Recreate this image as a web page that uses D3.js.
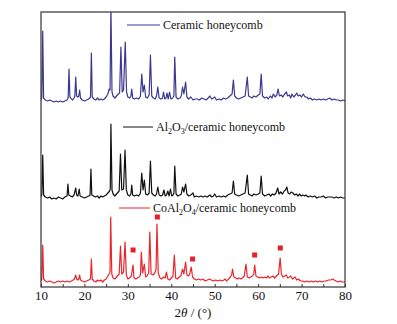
<!DOCTYPE html>
<html><head><meta charset="utf-8">
<script src="https://cdn.jsdelivr.net/npm/d3@7"></script>
<style>
html,body{margin:0;padding:0;background:#fff;}
svg{display:block;font-family:"Liberation Serif","Times New Roman",serif;}
</style></head>
<body><svg id="c" width="397" height="324"></svg>
<script>
// ---- data (2θ in degrees, intensity in a.u. above each trace's own baseline) ----
const xTicks = [10,15,20,25,30,35,40,45,50,55,60,65,70,75,80];
const xTickLabels = ["10","","20","","30","","40","","50","","60","","70","","80"];
const seriesNames = ["Ceramic honeycomb","Al2O3/ceramic honeycomb","CoAl2O4/ceramic honeycomb"];
const seriesOffsets = [185, 88, 4];

const ceramic = [[10.0,2],[10.2,5],[10.4,71],[10.6,4],[11,2],[11.5,1],[12,2],[12.5,1],[13,0],[13.5,1],[14,0],[14.5,1],[15,0],[15.5,1],[16,2],[16.25,4],[16.45,33],[16.65,5],[17,3],[17.3,2],[17.6,4],[17.8,6],[18.0,25],[18.2,6],[18.5,5],[18.7,6],[18.9,12],[19.1,4],[19.5,2],[20,1],[20.5,2],[21,3],[21.4,5],[21.6,49],[21.8,5],[22.2,3],[22.6,2],[23,4],[23.4,2],[23.8,3],[24.2,2],[24.6,3],[25,5],[25.4,8],[25.7,13],[25.9,12],[26.1,95],[26.35,10],[26.6,6],[27,4],[27.4,6],[27.8,8],[28.1,9],[28.4,55],[28.7,10],[29.0,12],[29.4,60],[29.7,10],[30.0,5],[30.4,4],[30.7,6],[30.9,13],[31.1,4],[31.5,3],[32,4],[32.5,3],[32.9,6],[33.2,28],[33.5,10],[33.8,17],[34.1,5],[34.5,4],[34.9,7],[35.2,47],[35.5,6],[35.9,4],[36.3,3],[36.6,6],[36.9,15],[37.2,4],[37.6,3],[38.0,4],[38.2,10],[38.5,3],[38.8,4],[39.0,9],[39.3,3],[39.6,10],[39.9,3],[40.3,4],[40.6,6],[40.8,45],[41.1,5],[41.5,3],[42,4],[42.3,6],[42.6,15],[42.9,8],[43.3,20],[43.6,5],[44,3],[44.5,5],[45,2],[45.5,3],[46,3],[46.5,2],[47,4],[47.5,3],[48,2],[48.5,4],[48.9,6],[49.3,3],[49.7,4],[50,5],[50.4,2],[51,3],[51.5,2],[52,4],[52.5,3],[53,4],[53.5,6],[54.0,8],[54.3,22],[54.6,6],[55,4],[55.5,3],[56,4],[56.5,5],[57,6],[57.5,25],[57.8,6],[58.2,5],[58.6,4],[59,6],[59.5,5],[60,7],[60.4,8],[60.7,28],[61,6],[61.5,4],[62,5],[62.3,3],[62.8,6],[63.2,4],[63.5,8],[63.9,5],[64.3,7],[64.6,13],[64.9,6],[65.3,7],[65.7,5],[66.1,8],[66.5,10],[66.8,6],[67.2,7],[67.5,4],[67.8,8],[68.2,5],[68.6,7],[68.9,9],[69.2,6],[69.6,7],[70,5],[70.4,8],[70.8,5],[71.2,5],[71.6,3],[72,4],[72.5,2],[73,3],[73.5,2],[74,3],[74.5,2],[75,3],[75.5,2],[76,3],[76.5,4],[77,2],[77.5,3],[78,2],[78.5,2],[79,1],[79.5,2],[80,1]];

const alumina = [[10.0,2],[10.2,5],[10.4,44],[10.6,4],[11,2],[11.5,1],[12,2],[12.5,0],[13,1],[13.5,0],[14,2],[14.5,1],[15,0],[15.5,2],[16,3],[16.2,15],[16.4,4],[16.8,3],[17.2,2],[17.6,4],[18.0,11],[18.2,4],[18.5,3],[18.8,10],[19.0,3],[19.5,2],[20,1],[20.5,2],[21,3],[21.3,4],[21.5,30],[21.7,4],[22.1,3],[22.5,2],[23,3],[23.4,1],[23.8,3],[24.2,2],[24.6,3],[25,4],[25.4,6],[25.8,8],[25.95,10],[26.1,75],[26.35,9],[26.6,5],[27,3],[27.4,5],[27.8,7],[28.0,8],[28.3,45],[28.6,9],[29.0,10],[29.35,49],[29.65,9],[30.0,4],[30.4,3],[30.7,5],[30.9,14],[31.1,4],[31.5,3],[32,4],[32.5,3],[32.9,6],[33.2,26],[33.5,9],[33.8,19],[34.1,5],[34.5,4],[34.9,6],[35.2,38],[35.5,6],[35.9,4],[36.3,3],[36.6,5],[36.9,12],[37.2,4],[37.6,3],[38.0,4],[38.3,9],[38.6,3],[38.9,4],[39.2,8],[39.5,3],[39.8,10],[40.1,3],[40.4,4],[40.6,6],[40.8,33],[41.1,5],[41.5,3],[42,4],[42.3,5],[42.6,12],[42.9,7],[43.3,15],[43.6,5],[44,3],[44.5,4],[45,6],[45.3,2],[45.8,3],[46.3,2],[46.8,3],[47.3,2],[47.8,3],[48.3,2],[48.9,4],[49.3,2],[49.7,3],[50,5],[50.4,2],[51,3],[51.5,2],[52,3],[52.5,2],[53,4],[53.5,5],[54.0,6],[54.3,18],[54.6,5],[55,4],[55.5,3],[56,4],[56.5,5],[57,6],[57.5,24],[57.8,5],[58.2,4],[58.6,3],[59,5],[59.5,4],[60,5],[60.4,6],[60.7,23],[61,5],[61.5,3],[62,4],[62.5,5],[62.9,3],[63.3,5],[63.7,4],[64.1,6],[64.5,11],[64.8,5],[65.2,7],[65.6,5],[66.0,8],[66.3,9],[66.6,12],[66.9,6],[67.3,5],[67.6,7],[68,6],[68.4,4],[68.8,5],[69.2,3],[69.5,5],[69.9,3],[70.3,4],[70.7,3],[71,4],[71.5,2],[72,3],[72.5,2],[73,3],[73.5,1],[74,2],[74.5,2],[75,3],[75.5,1],[76,2],[76.5,2],[77,2],[77.5,1],[78,2],[78.5,1],[79,2],[79.5,1],[80,1]];

const cobalt = [[10.0,2],[10.2,5],[10.4,38],[10.6,4],[11,2],[11.5,1],[12,2],[12.5,1],[13,0],[13.5,1],[14,2],[14.5,1],[15,2],[15.5,1],[16,2],[16.5,1],[17,2],[17.4,3],[17.7,4],[18.0,8],[18.2,4],[18.5,3],[18.7,4],[18.9,8],[19.1,3],[19.5,2],[20,1],[20.5,2],[21,3],[21.4,4],[21.6,24],[21.8,4],[22.2,2],[22.6,1],[23,3],[23.4,2],[23.8,3],[24.2,1],[24.6,3],[25,4],[25.4,7],[25.8,10],[25.9,12],[26.05,66],[26.3,9],[26.6,5],[27,4],[27.4,6],[27.8,8],[28.0,9],[28.3,37],[28.6,9],[29.0,11],[29.35,41],[29.65,8],[30.0,4],[30.4,5],[30.8,7],[31.2,18],[31.4,5],[31.8,4],[32.2,5],[32.6,6],[32.9,8],[33.1,31],[33.4,10],[33.8,19],[34.1,6],[34.4,7],[34.8,10],[35.05,51],[35.35,9],[35.8,8],[36.2,10],[36.5,14],[36.7,59],[37.0,10],[37.4,5],[37.8,4],[38.2,6],[38.6,5],[38.9,11],[39.2,4],[39.6,3],[40.0,5],[40.4,7],[40.7,28],[41.0,5],[41.4,4],[41.8,6],[42.2,7],[42.6,14],[42.9,9],[43.3,21],[43.6,8],[44.0,7],[44.3,10],[44.6,16],[44.9,6],[45.3,4],[45.8,3],[46.3,4],[46.8,3],[47.3,4],[47.8,2],[48.3,3],[48.8,4],[49.2,3],[49.7,2],[50.2,3],[50.7,2],[51.2,3],[51.7,2],[52.1,3],[52.4,4],[52.7,2],[53.2,4],[53.6,6],[53.9,8],[54.1,14],[54.4,6],[54.8,5],[55.2,4],[55.6,5],[56.0,4],[56.4,5],[56.8,7],[57.2,19],[57.5,6],[57.9,5],[58.3,6],[58.7,7],[59.0,9],[59.2,18],[59.5,7],[59.9,6],[60.3,5],[60.7,6],[61.1,5],[61.5,6],[61.9,5],[62.3,7],[62.6,5],[63.0,6],[63.4,7],[63.8,5],[64.2,7],[64.45,8],[64.7,9],[65.07,25],[65.35,9],[65.7,6],[66.1,7],[66.5,8],[66.8,5],[67.2,6],[67.5,7],[67.9,4],[68.2,5],[68.5,6],[68.9,3],[69.3,4],[69.7,2],[70.2,2],[70.7,1],[71.2,2],[71.7,1],[72.2,2],[72.7,1],[73.2,2],[73.7,1],[74.2,2],[74.7,1],[75.2,2],[75.7,2],[76.2,3],[76.7,3],[77.2,4],[77.5,3],[77.9,2],[78.4,1],[78.9,2],[79.4,1],[80,1]];

// CoAl2O4 reflections marked with red squares: [2θ, marker height above baseline]
const coMarkers = [[31.2,33],[36.8,66],[44.9,24],[59.2,28],[65.1,35]];

const seriesColors = ["#38398f","#111111","#e8262c"];

// ---- layout ----
const svg = d3.select("#c");
const M = {left:41, right:345, top:12, bottom:287};
const x = d3.scaleLinear().domain([10,80]).range([M.left, M.right]);
const y = d3.scaleLinear().domain([0, M.bottom - M.top]).range([M.bottom, M.top]);

svg.append("defs").append("clipPath").attr("id","clip")
  .append("rect").attr("x",M.left).attr("y",M.top).attr("width",M.right-M.left).attr("height",M.bottom-M.top);

const plot = svg.append("g").attr("clip-path","url(#clip)");
const allSeries = [ceramic, alumina, cobalt];
allSeries.forEach((s,i)=>{
  const line = d3.line().x(d=>x(d[0])).y(d=>y(d[1]+seriesOffsets[i]));
  plot.append("path").datum(s).attr("d",line).attr("fill","none")
    .attr("stroke",seriesColors[i]).attr("stroke-width",1.2).attr("stroke-linejoin","round");
});

// markers
const ms = 5;
svg.append("g").selectAll("rect").data(coMarkers).join("rect")
  .attr("x",d=>x(d[0])-ms/2).attr("y",d=>y(d[1]+seriesOffsets[2])-ms/2)
  .attr("width",ms).attr("height",ms).attr("fill","#e8202a");

// frame
svg.append("rect").attr("x",M.left).attr("y",M.top).attr("width",M.right-M.left).attr("height",M.bottom-M.top)
  .attr("fill","none").attr("stroke","#333").attr("stroke-width",1.2);

// x axis
const ax = svg.append("g").attr("transform",`translate(0,${M.bottom})`)
  .call(d3.axisBottom(x).tickValues(xTicks).tickSize(-3).tickPadding(4).tickFormat((d,i)=>xTickLabels[i]));
ax.select(".domain").remove();
ax.selectAll("line").attr("stroke","#333");
ax.selectAll("text").attr("font-family","Liberation Serif, serif").attr("font-size",13).attr("fill","#111");

// x label
const xl = svg.append("text").attr("x",(M.left+M.right)/2).attr("y",317).attr("text-anchor","middle")
  .attr("font-size",13).attr("fill","#111");
xl.append("tspan").text("2");
xl.append("tspan").attr("font-style","italic").text("θ");
xl.append("tspan").text(" / (°)");

// legends
function legend(lx1, lx2, ly, color, parts){
  svg.append("line").attr("x1",lx1).attr("x2",lx2).attr("y1",ly).attr("y2",ly).attr("stroke",color).attr("stroke-width",1);
  const t = svg.append("text").attr("x",lx2+3).attr("y",ly+4).attr("font-size",12).attr("fill","#111");
  parts.forEach(p=>{
    const ts = t.append("tspan").text(p[0]);
    if(p[1]) ts.attr("font-size",8).attr("dy",3);
    else if(p[2]) ts.attr("dy",-3);
  });
}
legend(127,160,25,seriesColors[0],[["Ceramic honeycomb"]]);
legend(123,153,127,seriesColors[1],[["Al"],["2",1],["O",0,1],["3",1],["/ceramic honeycomb",0,1]]);
legend(119,150,208,seriesColors[2],[["CoAl"],["2",1],["O",0,1],["4",1],["/ceramic honeycomb",0,1]]);
</script></body></html>
